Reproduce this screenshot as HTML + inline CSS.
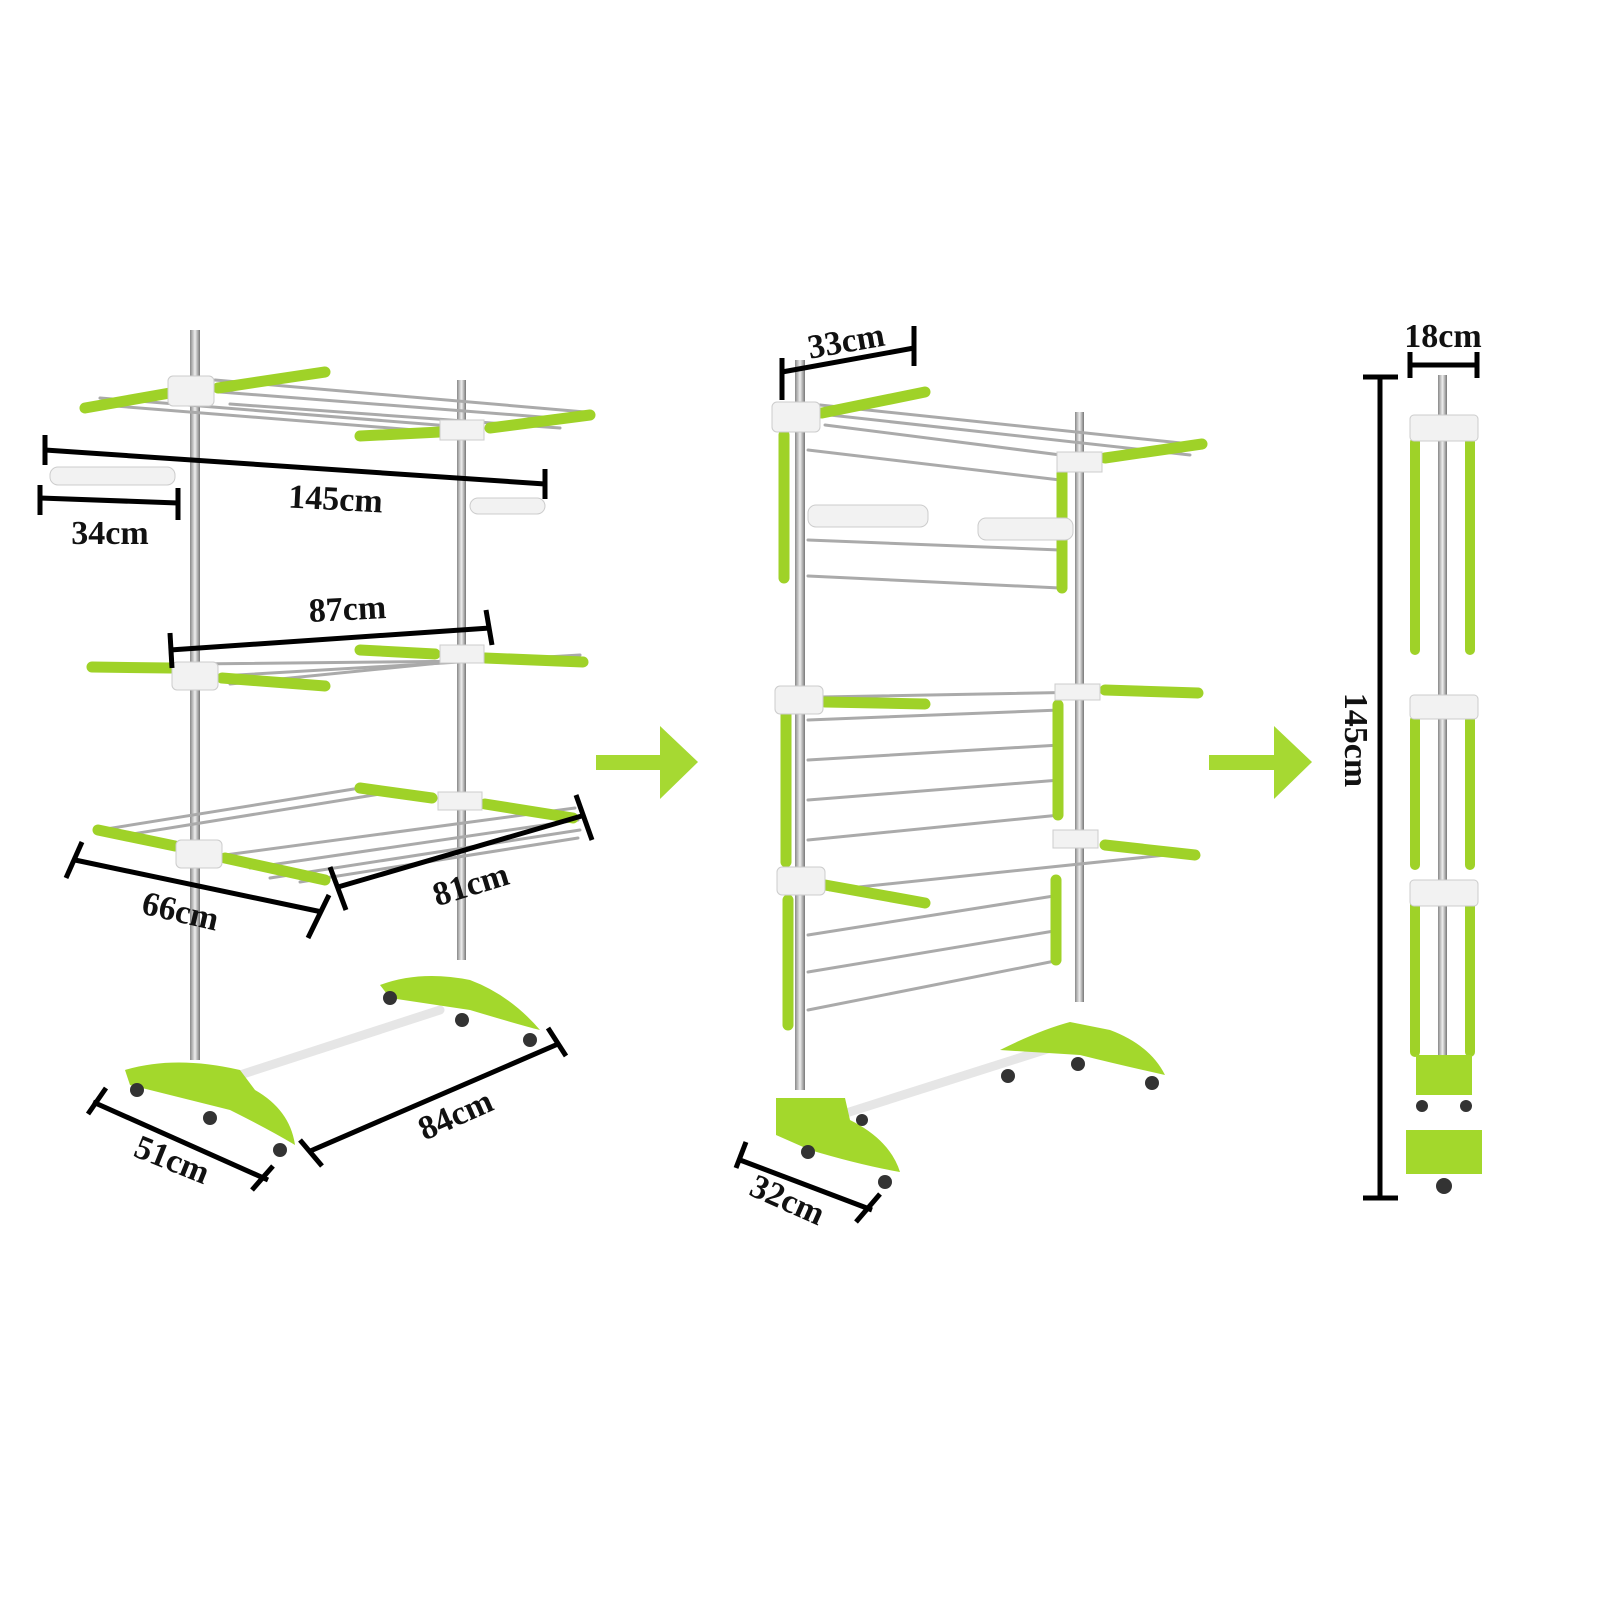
<!DOCTYPE html>
<html><head><meta charset="utf-8"><style>
html,body{margin:0;padding:0;background:#fff;}
svg{display:block;}
text{font-family:"Liberation Serif",serif;font-weight:bold;fill:#111;font-size:34px;}
</style></head><body>
<svg width="1600" height="1600" viewBox="0 0 1600 1600" xmlns="http://www.w3.org/2000/svg">
<defs>
<linearGradient id="pole" x1="0" x2="1"><stop offset="0" stop-color="#888"/><stop offset=".5" stop-color="#eee"/><stop offset="1" stop-color="#777"/></linearGradient>
</defs>
<g stroke-linecap="round">
<!-- LEFT RACK -->
<g>
<rect x="190" y="330" width="10" height="730" fill="url(#pole)"/>
<rect x="457" y="380" width="9" height="580" fill="url(#pole)"/>
<!-- top shelf rails -->
<g stroke="#aaa" stroke-width="3">
<line x1="215" y1="380" x2="585" y2="412"/><line x1="220" y1="392" x2="580" y2="420"/><line x1="230" y1="404" x2="560" y2="428"/>
<line x1="90" y1="404" x2="440" y2="432"/><line x1="100" y1="398" x2="450" y2="426"/>
<!-- middle -->
<line x1="95" y1="665" x2="580" y2="660"/><line x1="220" y1="676" x2="580" y2="655"/><line x1="230" y1="684" x2="470" y2="660"/>
<!-- bottom -->
<line x1="100" y1="830" x2="360" y2="788"/><line x1="120" y1="836" x2="380" y2="794"/><line x1="225" y1="855" x2="575" y2="808"/><line x1="250" y1="868" x2="578" y2="820"/><line x1="270" y1="878" x2="580" y2="830"/><line x1="300" y1="882" x2="578" y2="838"/>
</g>
<g stroke="#9fd228" stroke-width="11">
<line x1="85" y1="408" x2="170" y2="393"/><line x1="218" y1="388" x2="325" y2="372"/>
<line x1="360" y1="436" x2="440" y2="432"/><line x1="490" y1="428" x2="590" y2="415"/>
<line x1="92" y1="667" x2="170" y2="668"/><line x1="222" y1="678" x2="325" y2="686"/><line x1="360" y1="650" x2="435" y2="654"/><line x1="485" y1="658" x2="583" y2="662"/>
<line x1="98" y1="830" x2="175" y2="846"/><line x1="225" y1="858" x2="325" y2="880"/><line x1="360" y1="788" x2="432" y2="798"/><line x1="485" y1="804" x2="573" y2="818"/>
</g>
<g fill="#f2f2f2" stroke="#ccc">
<rect x="168" y="376" width="46" height="30" rx="5"/><rect x="440" y="420" width="44" height="20"/>
<rect x="172" y="662" width="46" height="28" rx="5"/><rect x="440" y="645" width="44" height="18"/>
<rect x="176" y="840" width="46" height="28" rx="5"/><rect x="438" y="792" width="44" height="18"/>
<rect x="50" y="467" width="125" height="18" rx="8"/><rect x="470" y="498" width="75" height="16" rx="8"/>
</g>
<!-- base -->
<line x1="240" y1="1075" x2="440" y2="1010" stroke="#e6e6e6" stroke-width="9"/>
<path d="M125 1070 Q175 1055 240 1070 L255 1090 Q290 1110 295 1145 Q270 1130 230 1110 L130 1085Z" fill="#a3d82c"/>
<path d="M380 985 Q420 970 470 980 Q510 995 540 1030 Q520 1025 470 1010 L390 998Z" fill="#a3d82c"/>
<g fill="#333"><circle cx="137" cy="1090" r="7"/><circle cx="210" cy="1118" r="7"/><circle cx="280" cy="1150" r="7"/><circle cx="390" cy="998" r="7"/><circle cx="462" cy="1020" r="7"/><circle cx="530" cy="1040" r="7"/></g>
</g>
<!-- MIDDLE RACK -->
<g>
<rect x="795" y="360" width="10" height="730" fill="url(#pole)"/>
<rect x="1075" y="412" width="9" height="590" fill="url(#pole)"/>
<g stroke="#aaa" stroke-width="3">
<line x1="820" y1="405" x2="1200" y2="445"/><line x1="830" y1="415" x2="1190" y2="455"/><line x1="825" y1="425" x2="1100" y2="460"/>
<line x1="808" y1="450" x2="1060" y2="480"/><line x1="808" y1="540" x2="1060" y2="550"/><line x1="808" y1="576" x2="1060" y2="588"/>
<line x1="820" y1="697" x2="1200" y2="690"/><line x1="808" y1="720" x2="1060" y2="710"/><line x1="808" y1="760" x2="1060" y2="745"/><line x1="808" y1="800" x2="1060" y2="780"/><line x1="808" y1="840" x2="1060" y2="815"/>
<line x1="830" y1="890" x2="1195" y2="852"/><line x1="808" y1="935" x2="1060" y2="895"/><line x1="808" y1="972" x2="1060" y2="930"/><line x1="808" y1="1010" x2="1060" y2="960"/>
</g>
<g stroke="#9fd228" stroke-width="11">
<line x1="822" y1="413" x2="925" y2="392"/><line x1="1105" y1="458" x2="1202" y2="444"/>
<line x1="784" y1="435" x2="784" y2="578"/><line x1="1062" y1="470" x2="1062" y2="588"/>
<line x1="825" y1="702" x2="925" y2="704"/><line x1="1105" y1="690" x2="1198" y2="693"/>
<line x1="786" y1="715" x2="786" y2="862"/><line x1="1058" y1="705" x2="1058" y2="815"/>
<line x1="825" y1="885" x2="925" y2="903"/><line x1="1105" y1="845" x2="1195" y2="855"/>
<line x1="788" y1="900" x2="788" y2="1025"/><line x1="1056" y1="880" x2="1056" y2="960"/>
</g>
<g fill="#f2f2f2" stroke="#ccc">
<rect x="772" y="402" width="48" height="30" rx="5"/><rect x="1057" y="452" width="45" height="20"/>
<rect x="775" y="686" width="48" height="28" rx="5"/><rect x="1055" y="684" width="45" height="16"/>
<rect x="777" y="867" width="48" height="28" rx="5"/><rect x="1053" y="830" width="45" height="18"/>
<rect x="808" y="505" width="120" height="22" rx="8"/><rect x="978" y="518" width="95" height="22" rx="8"/>
</g>
<line x1="840" y1="1115" x2="1060" y2="1045" stroke="#e6e6e6" stroke-width="9"/>
<path d="M776 1098 L845 1098 L850 1120 Q890 1140 900 1172 Q860 1165 810 1150 L776 1135Z" fill="#a3d82c"/>
<path d="M1000 1050 Q1040 1030 1070 1022 L1110 1030 Q1150 1045 1165 1075 Q1120 1065 1080 1055Z" fill="#a3d82c"/>
<g fill="#333"><circle cx="808" cy="1152" r="7"/><circle cx="885" cy="1182" r="7"/><circle cx="1008" cy="1076" r="7"/><circle cx="1078" cy="1064" r="7"/><circle cx="1152" cy="1083" r="7"/><circle cx="862" cy="1120" r="6"/></g>
</g>
<!-- RIGHT RACK -->
<g>
<rect x="1438" y="375" width="9" height="720" fill="url(#pole)"/>
<g stroke="#9fd228" stroke-width="10">
<line x1="1415" y1="442" x2="1415" y2="650"/><line x1="1470" y1="442" x2="1470" y2="650"/>
<line x1="1415" y1="720" x2="1415" y2="865"/><line x1="1470" y1="720" x2="1470" y2="865"/>
<line x1="1415" y1="905" x2="1415" y2="1052"/><line x1="1470" y1="905" x2="1470" y2="1052"/>
</g>
<g fill="#f2f2f2" stroke="#ccc">
<rect x="1410" y="415" width="68" height="26" rx="4"/><rect x="1410" y="695" width="68" height="24" rx="4"/><rect x="1410" y="880" width="68" height="26" rx="4"/>
</g>
<rect x="1416" y="1055" width="56" height="40" fill="#a3d82c"/>
<rect x="1406" y="1130" width="76" height="44" fill="#a3d82c"/>
<g fill="#333"><circle cx="1422" cy="1106" r="6"/><circle cx="1466" cy="1106" r="6"/><circle cx="1444" cy="1186" r="8"/></g>
</g>
</g>
<!-- ARROWS -->
<g fill="#a6d932">
<rect x="596" y="755" width="66" height="15"/><polygon points="660,726 698,762 660,799"/>
<rect x="1209" y="755" width="68" height="15"/><polygon points="1274,726 1312,762 1274,799"/>
</g>
<!-- DIMENSION LINES -->
<g stroke="#000" stroke-width="5" fill="none">
<line x1="45" y1="450" x2="545" y2="484"/><line x1="45" y1="435" x2="45" y2="465"/><line x1="545" y1="469" x2="545" y2="499"/>
<line x1="40" y1="498" x2="178" y2="503"/><line x1="40" y1="485" x2="40" y2="515"/><line x1="178" y1="488" x2="178" y2="520"/>
<line x1="170" y1="650" x2="490" y2="628"/><line x1="170" y1="633" x2="172" y2="668"/><line x1="486" y1="610" x2="492" y2="645"/>
<line x1="75" y1="860" x2="322" y2="912"/><line x1="82" y1="842" x2="66" y2="878"/><line x1="329" y1="895" x2="308" y2="938"/>
<line x1="338" y1="887" x2="585" y2="815"/><line x1="330" y1="867" x2="346" y2="910"/><line x1="576" y1="795" x2="592" y2="840"/>
<line x1="93" y1="1102" x2="268" y2="1180"/><line x1="106" y1="1088" x2="88" y2="1114"/><line x1="273" y1="1166" x2="252" y2="1190"/>
<line x1="308" y1="1152" x2="558" y2="1044"/><line x1="300" y1="1140" x2="322" y2="1166"/><line x1="548" y1="1028" x2="566" y2="1056"/>
<line x1="782" y1="372" x2="914" y2="348"/><line x1="782" y1="358" x2="782" y2="400"/><line x1="914" y1="326" x2="914" y2="366"/>
<line x1="740" y1="1160" x2="872" y2="1210"/><line x1="746" y1="1142" x2="736" y2="1168"/><line x1="880" y1="1194" x2="856" y2="1222"/>
<line x1="1410" y1="365" x2="1477" y2="365"/><line x1="1410" y1="352" x2="1410" y2="378"/><line x1="1477" y1="352" x2="1477" y2="378"/>
<line x1="1380" y1="377" x2="1380" y2="1198"/><line x1="1363" y1="377" x2="1398" y2="377"/><line x1="1363" y1="1198" x2="1398" y2="1198"/>
</g>
<!-- LABELS -->
<text x="335" y="510" text-anchor="middle" transform="rotate(3 335 510)">145cm</text>
<text x="110" y="544" text-anchor="middle">34cm</text>
<text x="348" y="620" text-anchor="middle" transform="rotate(-3 348 620)">87cm</text>
<text x="178" y="922" text-anchor="middle" transform="rotate(13 178 922)">66cm</text>
<text x="474" y="895" text-anchor="middle" transform="rotate(-17 474 895)">81cm</text>
<text x="168" y="1170" text-anchor="middle" transform="rotate(22 168 1170)">51cm</text>
<text x="460" y="1125" text-anchor="middle" transform="rotate(-24 460 1125)">84cm</text>
<text x="848" y="352" text-anchor="middle" transform="rotate(-10 848 352)">33cm</text>
<text x="783" y="1210" text-anchor="middle" transform="rotate(24 783 1210)">32cm</text>
<text x="1443" y="347" text-anchor="middle">18cm</text>
<text x="1345" y="740" text-anchor="middle" transform="rotate(90 1345 740)">145cm</text>
</svg>
</body></html>
